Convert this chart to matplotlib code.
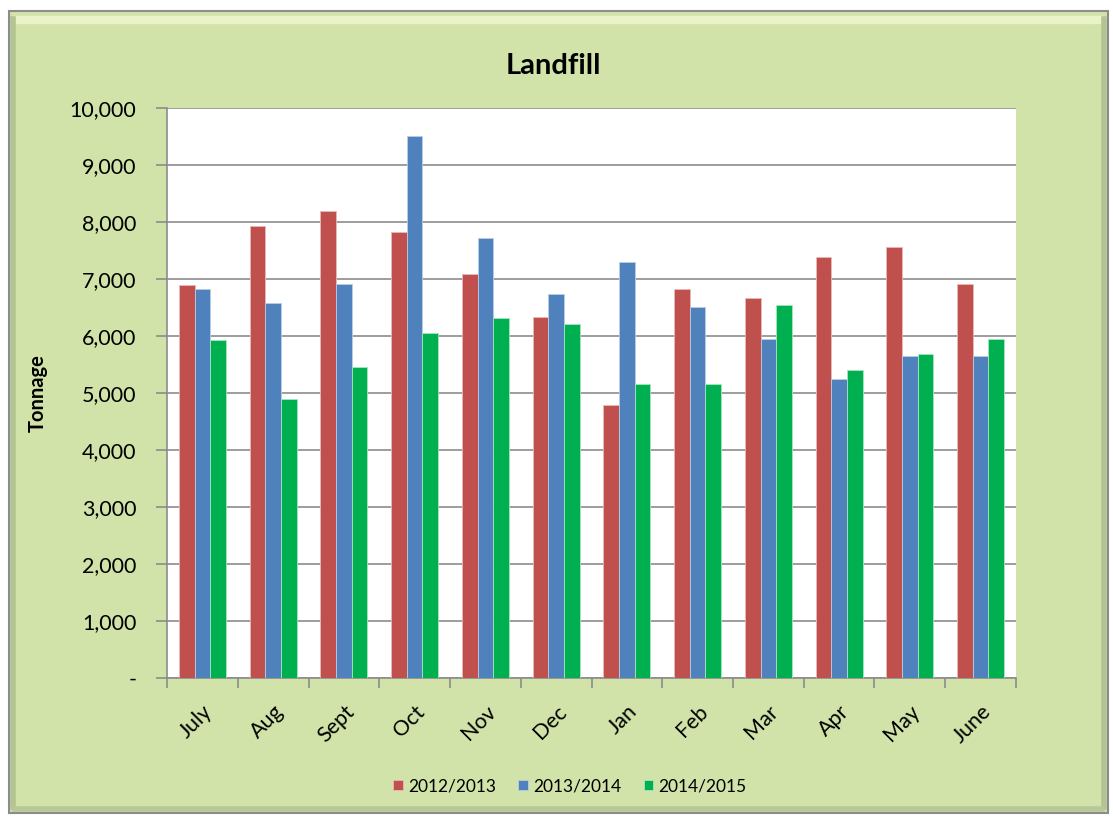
import matplotlib
matplotlib.use("Agg")
import matplotlib.pyplot as plt
import numpy as np
from matplotlib.patches import Rectangle
from matplotlib.lines import Line2D
from matplotlib.ticker import FuncFormatter

months = ["July", "Aug", "Sept", "Oct", "Nov", "Dec", "Jan", "Feb", "Mar", "Apr", "May", "June"]
series_names = ["2012/2013", "2013/2014", "2014/2015"]
s2012 = [6889, 7936, 8199, 7825, 7088, 6339, 4784, 6819, 6667, 7386, 7561, 6906]
s2013 = [6819, 6585, 6912, 9509, 7719, 6737, 7304, 6515, 5947, 5246, 5643, 5643]
s2014 = [5930, 4901, 5462, 6058, 6322, 6211, 5164, 5164, 6538, 5398, 5684, 5947]
colors = ["#C0504D", "#4F81BD", "#00B050"]
edge_colors = ["#E6B9B8", "#B9CDE5", "#A6E6C0"]

plt.rcParams['font.family'] = ['Lato', 'DejaVu Sans']

W, H = 1113, 818
fig = plt.figure(figsize=(W / 100, H / 100), dpi=100)
fig.patch.set_facecolor("white")

def fx(x):
    return x / W

def fy(y):
    return 1 - y / H

bg = "#D1E3A8"
# frame with bevel
x0, y0, x1, y1 = 9, 11, 1108, 813
fig.patches.append(Rectangle((fx(x0), fy(y1)), fx(x1 - x0), (y1 - y0) / H,
                             transform=fig.transFigure, facecolor=bg,
                             edgecolor="#8C8C8C", linewidth=1.5, zorder=0))
# bevel highlight / shadow
fig.add_artist(Line2D([fx(x0 + 8), fx(x1 - 8)], [fy(y0 + 9), fy(y0 + 9)],
                      transform=fig.transFigure, color="#EAF3C8", linewidth=6, zorder=1))
fig.add_artist(Line2D([fx(x0 + 4), fx(x0 + 4)], [fy(y0 + 8), fy(y1 - 6)],
                      transform=fig.transFigure, color="#B3C393", linewidth=4, zorder=1))
fig.add_artist(Line2D([fx(x1 - 4), fx(x1 - 4)], [fy(y0 + 8), fy(y1 - 6)],
                      transform=fig.transFigure, color="#B3C393", linewidth=4, zorder=1))
fig.add_artist(Line2D([fx(x0 + 6), fx(x1 - 6)], [fy(y1 - 4), fy(y1 - 4)],
                      transform=fig.transFigure, color="#B8C898", linewidth=4, zorder=1))

L, R, T, B = 167, 1016, 108, 678
ax = fig.add_axes([fx(L), fy(B), fx(R - L), (B - T) / H])
ax.set_facecolor("white")
ax.set_zorder(2)

n = len(months)
x = np.arange(n)
bw = 0.222
data = [s2012, s2013, s2014]
for i, (vals, c, ec, name) in enumerate(zip(data, colors, edge_colors, series_names)):
    ax.bar(x + (i - 1) * bw, vals, width=bw, color=c, edgecolor=ec, linewidth=0.6,
           label=name, zorder=3)

ax.set_xlim(-0.5, n - 0.5)
ax.set_ylim(0, 10000)
ax.set_yticks(np.arange(0, 10001, 1000))
ax.yaxis.set_major_formatter(FuncFormatter(lambda v, p: "-" if v == 0 else f"{int(v):,}"))
ax.grid(axis="y", color="#8C8C8C", linewidth=1.2, zorder=1)
ax.set_axisbelow(True)

for s in ["top", "right"]:
    ax.spines[s].set_visible(False)
ax.spines["left"].set_color("#8C8C8C")
ax.spines["bottom"].set_color("#8C8C8C")
ax.spines["left"].set_linewidth(1.2)
ax.spines["bottom"].set_linewidth(1.2)

ax.set_xticks(np.arange(-0.5, n, 1.0), minor=False)
ax.set_xticklabels([])
ax.tick_params(axis="x", which="major", length=7, color="#8C8C8C", width=1.2)
ax.set_xticks(x, minor=True)
ax.set_xticklabels(months, minor=True, rotation=45, ha="right", va="top",
                   rotation_mode="anchor", fontsize=15.5, color="black")
ax.tick_params(axis="x", which="minor", length=0, pad=17)
ax.tick_params(axis="y", length=8, color="#8C8C8C", width=1.2, labelsize=15.5, pad=14)

fig.text(fx(553), fy(66), "Landfill", ha="center", va="center", fontsize=21, fontweight="bold")
fig.text(fx(38), fy(393), "Tonnage", ha="center", va="center", rotation=90,
         fontsize=14.5, fontweight="bold")

leg = fig.legend(loc="center", bbox_to_anchor=(fx(570), fy(786)), ncol=3, frameon=False,
                 fontsize=12.5, handlelength=0.55, handleheight=0.55, handletextpad=0.3,
                 columnspacing=1.3)

fig.savefig("out.png", dpi=100, facecolor=fig.get_facecolor())
